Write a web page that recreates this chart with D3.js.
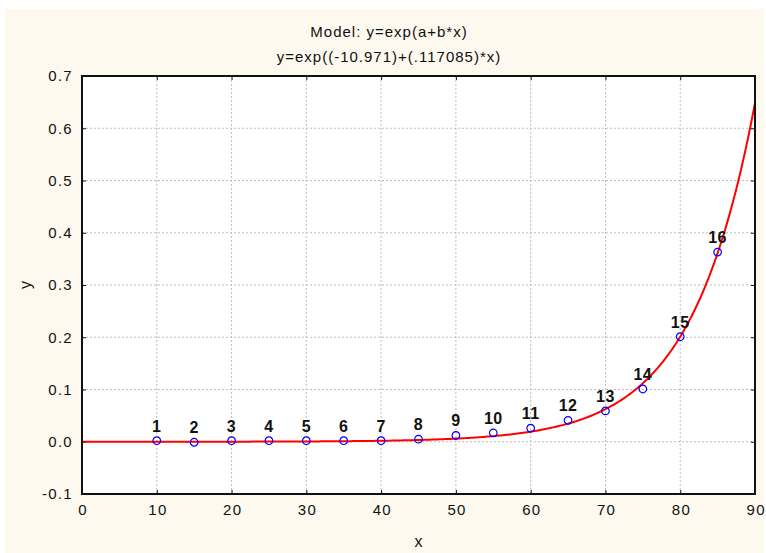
<!DOCTYPE html>
<html>
<head>
    <style type="text/css">
        body { margin: 0; background: #ffffff; }
        text { font-family: "Liberation Sans", Arial, sans-serif; fill: #111; }
        .tick text { font-size: 15px; letter-spacing: 1.3px; }
        .grid line { stroke: #bdbdbd; stroke-width: 1px; stroke-dasharray: 2,2; }
        .ptLabel { font-size: 16px; font-weight: bold; text-anchor: middle; letter-spacing: 0.5px; }
        .title { font-size: 15px; text-anchor: middle; letter-spacing: 1px; }
    </style>
    <script src="https://d3js.org/d3.v7.min.js"></script>
</head>
<body>
    <svg id="mySvg" width="766" height="553"></svg>
<script type="text/javascript">
// observed points (case numbers 1..16)
const caseLabels = ['1','2','3','4','5','6','7','8','9','10','11','12','13','14','15','16'];
const xValues = [10, 15, 20, 25, 30, 35, 40, 45, 50, 55, 60, 65, 70, 75, 80, 85];
const yValues = [0.002, -0.001, 0.002, 0.002, 0.002, 0.002, 0.002, 0.005, 0.012, 0.017, 0.026, 0.041, 0.059, 0.101, 0.201, 0.363];

// fitted model y = exp(a + b*x)
const paramA = -10.971;
const paramB = 0.117085;

const xTicks = [0, 10, 20, 30, 40, 50, 60, 70, 80, 90];
const yTicks = [-0.1, 0.0, 0.1, 0.2, 0.3, 0.4, 0.5, 0.6, 0.7];
const titleLines = ['Model: y=exp(a+b*x)', 'y=exp((-10.971)+(.117085)*x)'];

const svg = d3.select('#mySvg');
const pLeft = 82, pRight = 755, pTop = 76, pBottom = 494;

// cream panel
svg.append('rect')
  .attr('x', 5).attr('y', 9)
  .attr('width', 759).attr('height', 544)
  .attr('fill', '#fdf9ef');

const x = d3.scaleLinear().domain([0, 90]).range([pLeft, pRight]);
const y = d3.scaleLinear().domain([-0.1, 0.7]).range([pBottom, pTop]);

// plot area
svg.append('rect')
  .attr('x', pLeft).attr('y', pTop)
  .attr('width', pRight - pLeft).attr('height', pBottom - pTop)
  .attr('fill', '#ffffff');

// grid
const grid = svg.append('g').attr('class', 'grid');
grid.selectAll('line.gx')
  .data(xTicks.slice(1, -1))
  .enter().append('line')
  .attr('x1', d => x(d)).attr('x2', d => x(d))
  .attr('y1', pTop).attr('y2', pBottom);
grid.selectAll('line.gy')
  .data(yTicks.slice(1, -1))
  .enter().append('line')
  .attr('x1', pLeft).attr('x2', pRight)
  .attr('y1', d => y(d)).attr('y2', d => y(d));

// axes with inward ticks
const fmtY = d => d.toFixed(1);
svg.append('g')
  .attr('transform', 'translate(0,' + pBottom + ')')
  .call(d3.axisBottom(x).tickValues(xTicks).tickSizeInner(-4).tickSizeOuter(0).tickPadding(10))
  .call(g => g.select('.domain').remove())
  .call(g => g.selectAll('.tick text').attr('dx', '0.65px'));
svg.append('g')
  .attr('transform', 'translate(' + pLeft + ',0)')
  .call(d3.axisLeft(y).tickValues(yTicks).tickFormat(fmtY).tickSizeInner(-4).tickSizeOuter(0).tickPadding(9))
  .call(g => g.select('.domain').remove());
svg.append('g')
  .attr('transform', 'translate(0,' + pTop + ')')
  .call(d3.axisTop(x).tickValues(xTicks).tickFormat('').tickSizeInner(-4).tickSizeOuter(0))
  .call(g => g.select('.domain').remove());
svg.append('g')
  .attr('transform', 'translate(' + pRight + ',0)')
  .call(d3.axisRight(y).tickValues(yTicks).tickFormat('').tickSizeInner(-4).tickSizeOuter(0))
  .call(g => g.select('.domain').remove());
svg.selectAll('.tick line').attr('stroke', '#111');

// fitted curve
const curveX = d3.range(0, 90.01, 0.25);
const line = d3.line()
  .x(d => x(d))
  .y(d => y(Math.exp(paramA + paramB * d)));
svg.append('path')
  .datum(curveX)
  .attr('d', line)
  .attr('fill', 'none')
  .attr('stroke', '#ff0000')
  .attr('stroke-width', 2);

// frame
svg.append('rect')
  .attr('x', pLeft).attr('y', pTop)
  .attr('width', pRight - pLeft).attr('height', pBottom - pTop)
  .attr('fill', 'none')
  .attr('stroke', '#111')
  .attr('stroke-width', 2);

// points
const pts = svg.append('g').selectAll('g')
  .data(xValues.map((d, i) => ({x: d, y: yValues[i], label: caseLabels[i]})))
  .enter().append('g')
  .attr('transform', d => 'translate(' + x(d.x) + ',' + y(d.y) + ')');
pts.append('circle')
  .attr('r', 3.8)
  .attr('fill', 'none')
  .attr('stroke', '#0000ff')
  .attr('stroke-width', 1.2);
pts.append('text')
  .attr('class', 'ptLabel')
  .attr('y', -9)
  .text(d => d.label);

// titles
svg.selectAll('text.title')
  .data(titleLines)
  .enter().append('text')
  .attr('class', 'title')
  .attr('x', 389)
  .attr('y', (d, i) => 37 + i * 25)
  .text(d => d);

// axis names
svg.append('text')
  .attr('x', (pLeft + pRight) / 2).attr('y', 547)
  .attr('text-anchor', 'middle')
  .style('font-size', '16px')
  .text('x');
svg.append('text')
  .attr('transform', 'translate(31,285) rotate(-90)')
  .attr('text-anchor', 'middle')
  .style('font-size', '16px')
  .text('y');
</script>
</body>
</html>
